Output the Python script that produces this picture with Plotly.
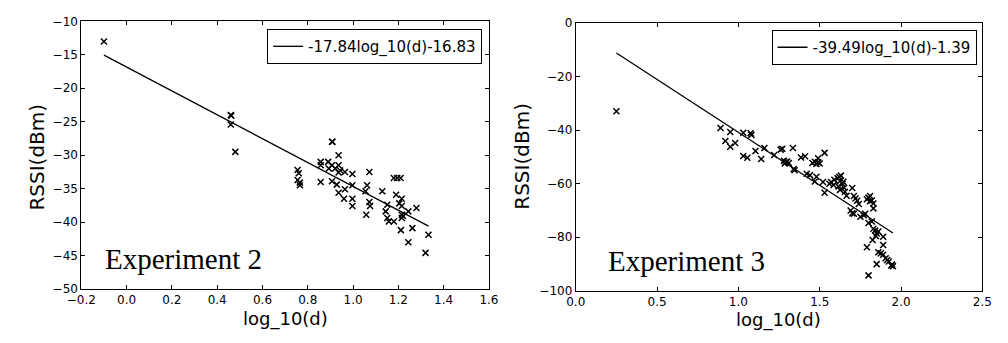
import plotly.graph_objects as go

# ---------------- data ----------------
exp2_x = [-0.10, 0.46, 0.462, 0.46, 0.48,
          0.755, 0.76, 0.755, 0.765, 0.765,
          0.857, 0.857, 0.857, 0.89, 0.893,
          0.907, 0.909, 0.907, 0.907, 0.921, 0.928,
          0.936, 0.936, 0.936, 0.936, 0.943,
          0.964, 0.964, 0.96,
          0.997, 0.997, 0.997, 0.997,
          1.055, 1.062, 1.058, 1.072, 1.072, 1.075,
          1.129, 1.144, 1.151, 1.151, 1.158, 1.18,
          1.18, 1.195, 1.21, 1.19, 1.204, 1.215, 1.215,
          1.215, 1.215, 1.22, 1.244, 1.28, 1.211, 1.262,
          1.244, 1.333, 1.32]
exp2_y = [-13.0, -24.0, -24.1, -25.4, -29.5,
          -32.2, -32.7, -33.7, -34.1, -34.5,
          -31.0, -31.5, -34.0, -31.0, -32.0,
          -28.0, -28.0, -31.5, -33.9, -32.0, -34.4,
          -30.0, -31.5, -32.6, -35.6, -32.3,
          -32.5, -35.1, -36.5,
          -32.8, -34.5, -36.5, -37.6,
          -35.4, -34.5, -38.9, -32.5, -37.0, -37.6,
          -35.4, -38.4, -37.4, -39.4, -39.9, -39.9,
          -33.4, -33.4, -33.4, -35.9, -37.2, -36.5, -37.6,
          -38.9, -39.4, -39.1, -38.4, -37.9, -41.2, -40.9,
          -43.0, -41.9, -44.6]
exp2_slope, exp2_icpt = -17.84, -16.83

exp3_x = [0.25, 0.89, 0.95, 0.92, 0.95, 0.98, 1.03, 1.075, 1.08, 1.105,
          1.03, 1.055, 1.14, 1.16, 1.22, 1.26, 1.27, 1.335,
          1.28, 1.29, 1.30, 1.31, 1.285, 1.34, 1.345, 1.385, 1.41,
          1.42, 1.44, 1.455, 1.47, 1.48, 1.49, 1.50, 1.49, 1.53,
          1.47, 1.48, 1.52, 1.53, 1.56, 1.57,
          1.585, 1.59, 1.61, 1.62, 1.625, 1.615, 1.625, 1.64, 1.645,
          1.65, 1.655, 1.665, 1.63,
          1.70, 1.71, 1.72, 1.73, 1.74,
          1.69, 1.71, 1.70, 1.75, 1.77, 1.78, 1.80, 1.82,
          1.79, 1.80, 1.81, 1.82, 1.83, 1.83, 1.81,
          1.83, 1.84, 1.85, 1.86, 1.845, 1.79, 1.825, 1.89, 1.89,
          1.86, 1.875, 1.89, 1.905, 1.915, 1.925, 1.85,
          1.945, 1.95, 1.94, 1.80]
exp3_y = [-33.0, -39.2, -40.7, -44.1, -46.2, -44.8, -41.0, -41.2, -41.8, -47.8,
          -49.7, -50.3, -50.8, -46.7, -49.3, -47.3, -47.0, -46.7,
          -51.5, -52.0, -51.7, -52.3, -52.5, -54.5, -55.0, -50.2, -49.8,
          -56.3, -56.8, -52.3, -51.8, -52.6, -52.0, -52.5, -50.5, -48.5,
          -59.2, -57.4, -59.4, -63.4, -60.0, -59.4,
          -60.5, -58.5, -58.0, -57.5, -59.0, -61.0, -62.3, -60.0, -59.3,
          -61.5, -63.0, -64.5, -57.0,
          -61.6, -64.6, -65.5, -66.4, -67.6,
          -70.0, -71.2, -71.0, -72.3, -71.8, -71.2, -74.7, -74.1,
          -65.8, -65.2, -64.6, -66.3, -67.4, -69.2, -66.5,
          -76.8, -77.5, -78.6, -77.8, -79.5, -83.7, -81.0, -79.8, -82.9,
          -85.6, -86.0, -86.5, -87.8, -88.5, -89.0, -90.0,
          -90.2, -90.8, -90.5, -94.2]
exp3_slope, exp3_icpt = -39.49, -1.39

exp2_xticks = [-0.2, 0.0, 0.2, 0.4, 0.6, 0.8, 1.0, 1.2, 1.4, 1.6]
exp2_yticks = [-50, -45, -40, -35, -30, -25, -20, -15, -10]
exp3_xticks = [0.0, 0.5, 1.0, 1.5, 2.0, 2.5]
exp3_yticks = [-100, -80, -60, -40, -20, 0]

# ---------------- figure ----------------
W, H = 1008, 343
fig = go.Figure()

def fit_line(xs, m, b):
    x0, x1 = min(xs), max(xs)
    return [x0, x1], [m * x0 + b, m * x1 + b]

mk = dict(symbol="x-thin", size=6, color="black", line=dict(width=1.5, color="black"))

lx, ly = fit_line(exp2_x, exp2_slope, exp2_icpt)
fig.add_trace(go.Scatter(x=lx, y=ly, mode="lines", line=dict(color="black", width=1.3),
                         name=f"{exp2_slope}log_10(d){exp2_icpt}", xaxis="x", yaxis="y",
                         legend="legend"))
fig.add_trace(go.Scatter(x=exp2_x, y=exp2_y, mode="markers", marker=mk, showlegend=False,
                         xaxis="x", yaxis="y"))

lx, ly = fit_line(exp3_x, exp3_slope, exp3_icpt)
fig.add_trace(go.Scatter(x=lx, y=ly, mode="lines", line=dict(color="black", width=1.3),
                         name=f"{exp3_slope}log_10(d){exp3_icpt}", xaxis="x2", yaxis="y2",
                         legend="legend2"))
fig.add_trace(go.Scatter(x=exp3_x, y=exp3_y, mode="markers", marker=mk, showlegend=False,
                         xaxis="x2", yaxis="y2"))

ax_common = dict(showline=True, linecolor="black", linewidth=1, mirror="ticks",
                 ticks="inside", ticklen=4, tickcolor="black", tickwidth=1,
                 showgrid=False, zeroline=False,
                 tickfont=dict(family="DejaVu Sans", size=12, color="black"))

def fmt(v, nd):
    return f"{v:.{nd}f}".replace("-", "\u2212")

fig.update_layout(
    width=W, height=H, margin=dict(l=0, r=0, t=0, b=0),
    paper_bgcolor="white", plot_bgcolor="white",
    xaxis=dict(domain=[68 / W, 486 / W], range=[-0.2, 1.6], anchor="y",
               tickvals=exp2_xticks, ticktext=[fmt(v, 1) for v in exp2_xticks], **ax_common),
    yaxis=dict(domain=[1 - 294 / H, 1 - 15 / H], range=[-50, -10], anchor="x",
               tickvals=exp2_yticks, ticktext=[fmt(v, 0) for v in exp2_yticks], **ax_common),
    xaxis2=dict(domain=[575 / W, 992 / W], range=[0, 2.5], anchor="y2",
                tickvals=exp3_xticks, ticktext=[fmt(v, 1) for v in exp3_xticks], **ax_common),
    yaxis2=dict(domain=[1 - 296 / H, 1 - 16.5 / H], range=[-100, 0], anchor="x2",
                tickvals=exp3_yticks, ticktext=[fmt(v, 0) for v in exp3_yticks], **ax_common),
    legend=dict(x=479 / W, y=1 - 23 / H, xanchor="right", yanchor="top",
                bordercolor="black", borderwidth=1, bgcolor="white", itemwidth=30,
                font=dict(family="DejaVu Sans", size=15, color="black")),
    legend2=dict(x=986 / W, y=1 - 24 / H, xanchor="right", yanchor="top",
                 bordercolor="black", borderwidth=1, bgcolor="white", itemwidth=30,
                 font=dict(family="DejaVu Sans", size=15, color="black")),
)

title_font = dict(family="DejaVu Sans", size=18, color="black")
ann = []
ann.append(dict(text="log_10(d)", x=277 / W, y=1 - 325 / H, xref="paper", yref="paper",
                showarrow=False, font=title_font, xanchor="center", yanchor="middle"))
ann.append(dict(text="log_10(d)", x=783 / W, y=1 - 326 / H, xref="paper", yref="paper",
                showarrow=False, font=title_font, xanchor="center", yanchor="middle"))
ann.append(dict(text="RSSI(dBm)", x=22.5 / W, y=1 - 156 / H, xref="paper", yref="paper",
                showarrow=False, font=dict(family="DejaVu Sans", size=20, color="black"),
                textangle=-90, xanchor="center", yanchor="middle"))
ann.append(dict(text="RSSI(dBm)", x=520 / W, y=1 - 156 / H, xref="paper", yref="paper",
                showarrow=False, font=dict(family="DejaVu Sans", size=20, color="black"),
                textangle=-90, xanchor="center", yanchor="middle"))
ann.append(dict(text="Experiment 2", x=90 / W, y=1 - 263 / H, xref="paper", yref="paper",
                showarrow=False, font=dict(family="Liberation Serif", size=29, color="black"),
                xanchor="left", yanchor="middle"))
ann.append(dict(text="Experiment 3", x=606 / W, y=1 - 265 / H, xref="paper", yref="paper",
                showarrow=False, font=dict(family="Liberation Serif", size=29, color="black"),
                xanchor="left", yanchor="middle"))
fig.update_layout(annotations=ann)

fig.write_html("out.html")
